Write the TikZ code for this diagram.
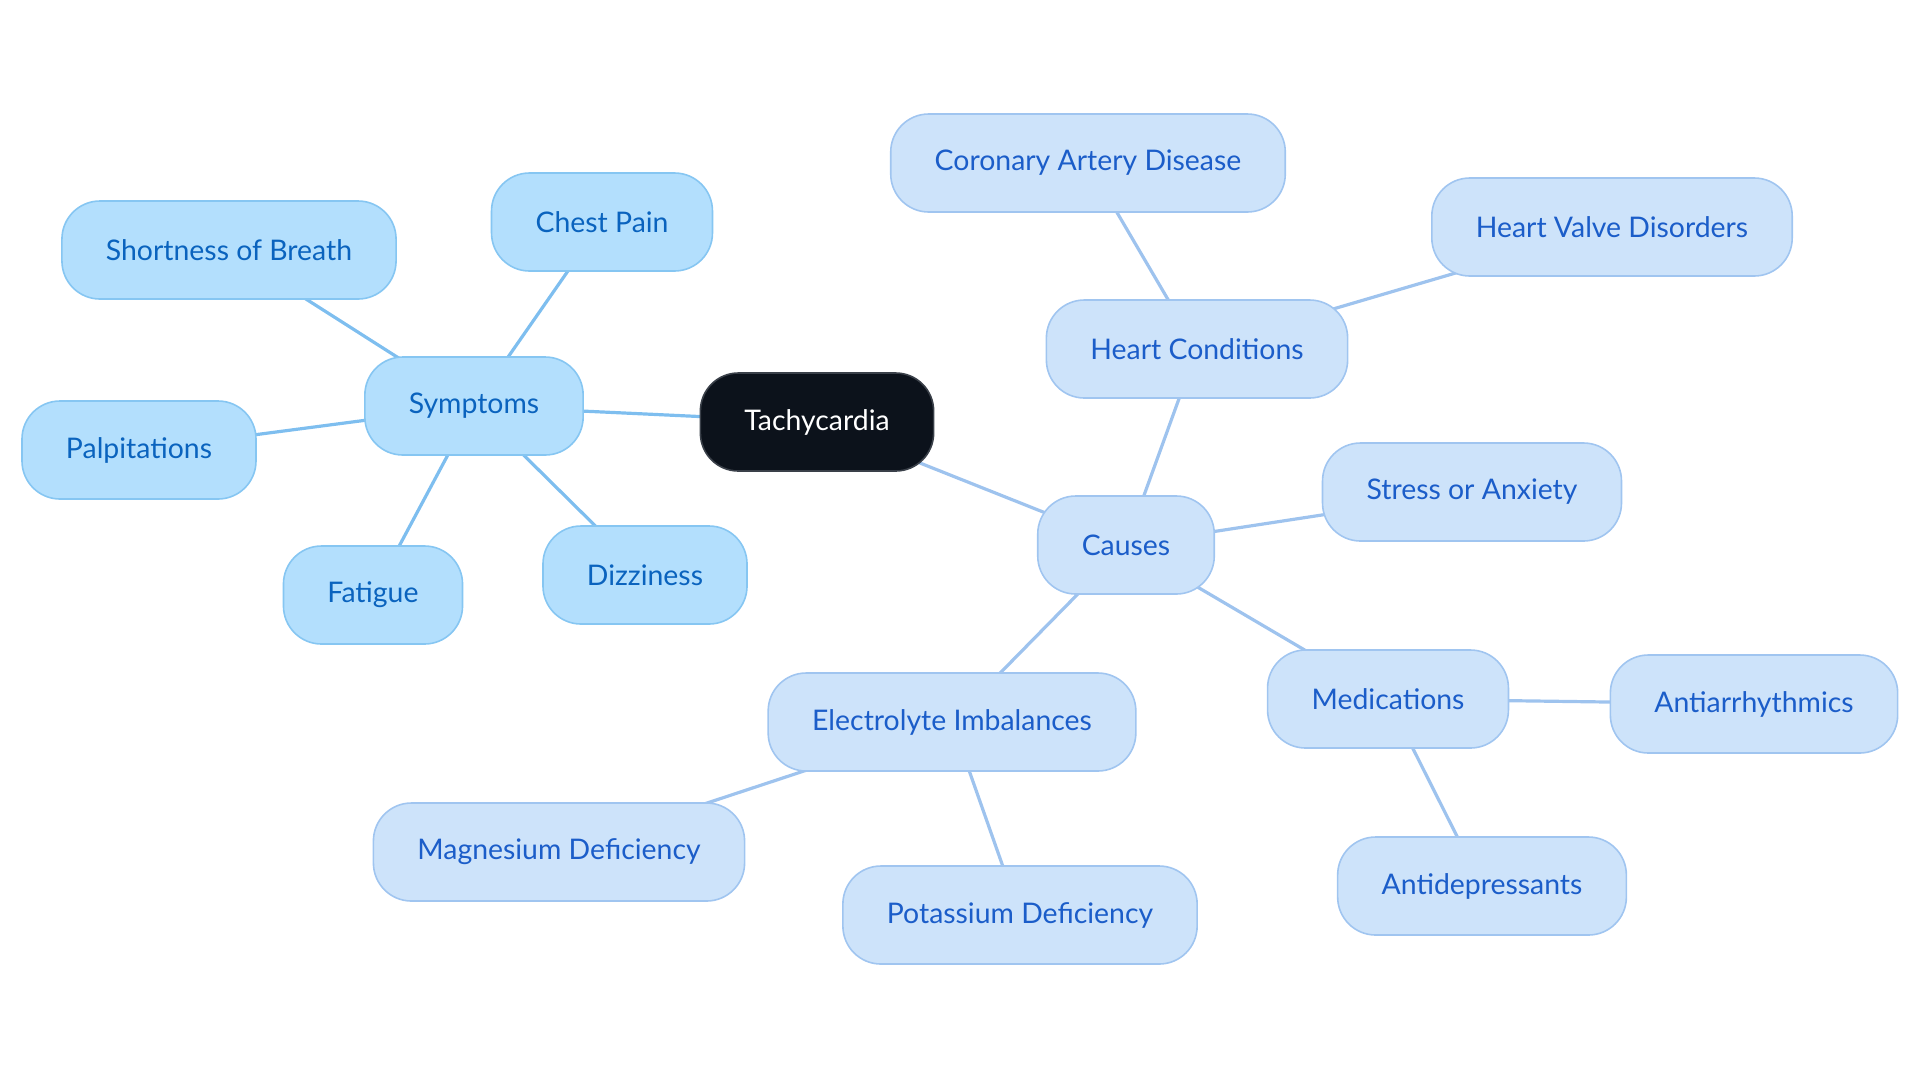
\documentclass[tikz,border=0pt]{standalone}
\usepackage{fontspec}
\setmainfont{Lato}
\usepackage{xcolor}
\usepackage{tikz}
\usetikzlibrary{positioning,calc,backgrounds}

\definecolor{rootfill}{HTML}{0C121B}
\definecolor{rootdraw}{HTML}{3A4049}
\definecolor{symfill}{HTML}{B3DFFD}
\definecolor{symdraw}{HTML}{86C6F2}
\definecolor{symtext}{HTML}{0A63BE}
\definecolor{symline}{HTML}{7EBEEF}
\definecolor{caufill}{HTML}{CDE3FA}
\definecolor{caudraw}{HTML}{A0C5F0}
\definecolor{cautext}{HTML}{1B5DC9}
\definecolor{cauline}{HTML}{9EC3EE}

\tikzset{
    topic/.style={rounded corners=19pt, line width=0.8pt, minimum height=49pt,
        inner xsep=22pt, outer sep=0pt, font=\fontsize{14.2}{17}\selectfont},
    root/.style={topic, fill=rootfill, draw=rootdraw, text=white},
    sym/.style={topic, fill=symfill, draw=symdraw, text=symtext},
    cau/.style={topic, fill=caufill, draw=caudraw, text=cautext},
    symlink/.style={draw=symline, line width=1.6pt},
    caulink/.style={draw=cauline, line width=1.6pt}
}

\begin{document}
\begin{tikzpicture}[x=0.5pt, y=-0.5pt]
    \useasboundingbox (0,0) rectangle (1920,1083);

    % Centre
    \node [root] (tachy) at (817,422) {Tachycardia};

    % Symptoms
    \node [sym] (symptoms) at (474,406) {Symptoms};
    \foreach \name/\x/\y/\label in {breath/229/250/Shortness of Breath, chest/602/222/Chest Pain,
            palp/139/450/Palpitations, fatigue/373/595/Fatigue, dizzy/645/575/Dizziness}
        \node [sym] (\name) at (\x,\y) {\label};

    % Causes
    \node [cau] (causes) at (1126,545) {Causes};
    \foreach \name/\x/\y/\label in {heart/1197/349/Heart Conditions, coronary/1088/163/Coronary Artery Disease,
            valve/1612/227/Heart Valve Disorders, stress/1472/492/Stress or Anxiety,
            meds/1388/699/Medications, antiarr/1754/704/Antiarrhythmics,
            antidep/1482/886/Antidepressants, electro/952/722/Electrolyte Imbalances,
            magnes/559/852/Magnesium Deficiency, potass/1020/915/Potassium Deficiency}
        \node [cau] (\name) at (\x,\y) {\label};

    % Links, behind the boxes
    \begin{scope}[on background layer]
        \draw [symlink] (tachy.center) -- (symptoms.center);
        \draw [caulink] (tachy.center) -- (causes.center);
        \foreach \a in {breath, chest, palp, fatigue, dizzy}
            \draw [symlink] (symptoms.center) -- (\a.center);
        \foreach \a/\b in {causes/heart, causes/stress, causes/meds, causes/electro,
                heart/coronary, heart/valve, meds/antiarr, meds/antidep,
                electro/magnes, electro/potass}
            \draw [caulink] (\a.center) -- (\b.center);
    \end{scope}
\end{tikzpicture}
\end{document}
